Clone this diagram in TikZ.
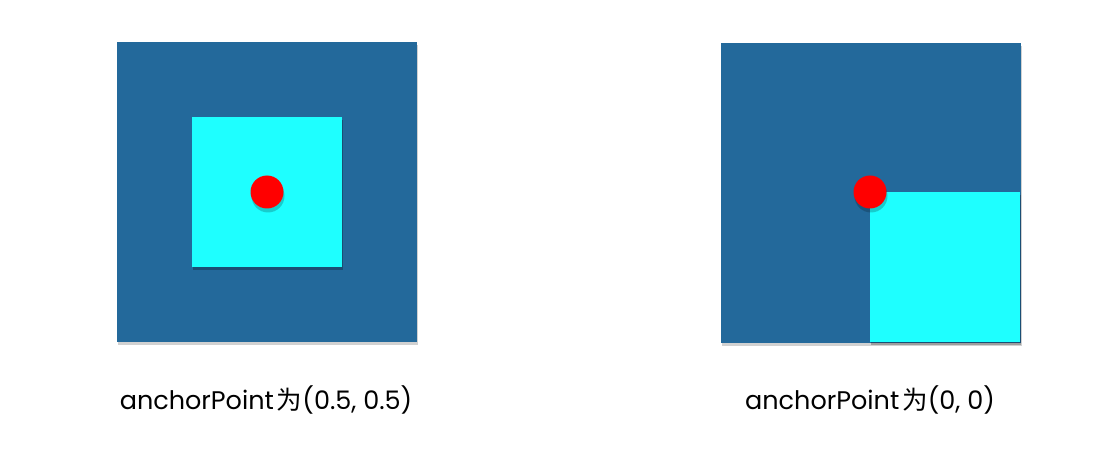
\documentclass[tikz,border=0pt]{standalone}
\usepackage{fontspec}
\setmainfont{Poppins}
\newfontfamily\cjk{Noto Sans CJK SC}
\usetikzlibrary{shadows}
\definecolor{paperblue}{HTML}{23699B}
\definecolor{layercyan}{HTML}{1EFFFF}
\definecolor{dotred}{HTML}{FF0000}
\tikzset{
  base/.style={fill=paperblue, minimum size=300, inner sep=0,
    drop shadow={shadow xshift=1pt, shadow yshift=-3pt, opacity=0.18, fill=black}},
  layer/.style={fill=layercyan, minimum size=150, inner sep=0,
    drop shadow={shadow xshift=1pt, shadow yshift=-3pt, opacity=0.25, fill=black}},
  anchordot/.style={circle, fill=dotred, minimum size=33, inner sep=0,
    drop shadow={shadow xshift=1pt, shadow yshift=-4pt, opacity=0.2, fill=black}},
  caption/.style={anchor=base, inner sep=0, font=\fontsize{25.5}{30}\selectfont}
}
\begin{document}
\begin{tikzpicture}[x=1pt, y=-1pt]
  \useasboundingbox (0,0) rectangle (1116,470);

  % left: anchorPoint (0.5, 0.5)
  \node[base] (leftbase) at (267,192) {};
  \node[layer] (leftlayer) at (267,192) {};
  \node[anchordot] (leftdot) at (leftlayer.center) {};
  \node[caption] (leftcap) at (266,409) {anchorPoint\hspace{3pt}{\cjk 为}(0.5, 0.5)};

  % right: anchorPoint (0, 0)
  \node[base] (rightbase) at (871,193) {};
  \node[layer, anchor=north west] (rightlayer) at (870,192) {};
  \node[anchordot] (rightdot) at (rightlayer.north west) {};
  \node[caption] (rightcap) at (870,409) {anchorPoint\hspace{3pt}{\cjk 为}(0, 0)};
\end{tikzpicture}
\end{document}
